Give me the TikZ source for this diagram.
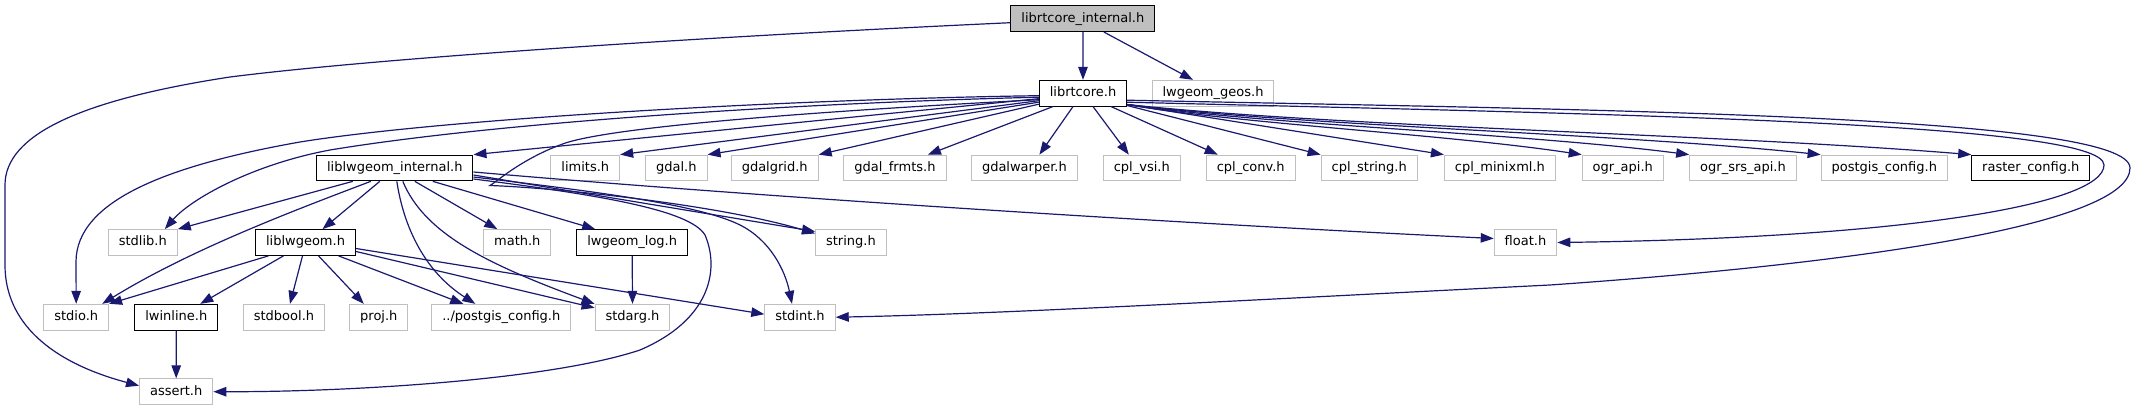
\documentclass[tikz,border=0pt]{standalone}
\usepackage{fontspec}
\setmainfont{DejaVu Sans}
\usetikzlibrary{arrows.meta}
\definecolor{edgeblue}{HTML}{191970}
\definecolor{grey75}{HTML}{BFBFBF}
\begin{document}
\begin{tikzpicture}[x=1pt,y=-1pt,
  hdr/.style={draw=grey75,fill=white,line width=1pt,inner xsep=10.5pt,inner ysep=0pt,
    minimum height=25.7pt,text height=9.6pt,text depth=2.6pt,font=\fontsize{13}{15}\selectfont},
  dochdr/.style={hdr,draw=black},
  roothdr/.style={hdr,draw=black,fill=grey75},
  inc/.style={draw=edgeblue,line width=1.2pt,-{Triangle[length=13pt,width=9.5pt]}}]
\useasboundingbox (0,0) rectangle (2137,411);

\node[roothdr] (lrci) at (1082.9,18.7) {librtcore\_internal.h};

\node[dochdr] (lrc) at (1083,93.2) {librtcore.h};
\node[hdr] (lwgeos) at (1213,93.2) {lwgeom\_geos.h};

\node[dochdr] (lwint) at (394.8,168) {liblwgeom\_internal.h};
\node[hdr] (limits) at (585.3,168) {limits.h};
\node[hdr] (gdal) at (676.3,168) {gdal.h};
\node[hdr] (gdalgrid) at (774.7,168) {gdalgrid.h};
\node[hdr] (gdalfrmts) at (894.9,168) {gdal\_frmts.h};
\node[hdr] (gdalwarper) at (1024.4,168) {gdalwarper.h};
\node[hdr] (cplvsi) at (1141.8,168) {cpl\_vsi.h};
\node[hdr] (cplconv) at (1250.7,168) {cpl\_conv.h};
\node[hdr] (cplstring) at (1369.2,168) {cpl\_string.h};
\node[hdr] (cplminixml) at (1499.9,168) {cpl\_minixml.h};
\node[hdr] (ograpi) at (1622.8,168) {ogr\_api.h};
\node[hdr] (ogrsrs) at (1743,168) {ogr\_srs\_api.h};
\node[hdr] (pgconf) at (1884.3,168) {postgis\_config.h};
\node[dochdr] (rconf) at (2030.8,168) {raster\_config.h};

\node[hdr] (stdlib) at (142.8,242.5) {stdlib.h};
\node[dochdr] (lwgeom) at (305.5,242.5) {liblwgeom.h};
\node[hdr] (math) at (517.3,242.5) {math.h};
\node[dochdr] (lwlog) at (632.2,242.5) {lwgeom\_log.h};
\node[hdr] (string) at (850.9,242.5) {string.h};
\node[hdr] (float) at (1525.5,242.5) {float.h};

\node[hdr] (stdio) at (76.2,317.2) {stdio.h};
\node[dochdr] (lwinline) at (176.3,317.2) {lwinline.h};
\node[hdr] (stdbool) at (284,317.2) {stdbool.h};
\node[hdr] (proj) at (378.8,317.2) {proj.h};
\node[hdr] (dpgconf) at (501.3,317.2) {../postgis\_config.h};
\node[hdr] (stdarg) at (632.5,317.2) {stdarg.h};
\node[hdr] (stdint) at (800,317.2) {stdint.h};

\node[hdr] (assert) at (176.2,391.7) {assert.h};

\draw[inc] (lrci.south) -- (lrc.north);
\draw[inc] ([xshift=21pt]lrci.south) -- ([xshift=-20pt]lwgeos.north);
\draw[inc] ([yshift=-4pt]lrci.west) .. controls (700,37) and (380,58) .. (230,77)
  .. controls (80,100) and (5,135) .. (5,185) -- (5,265)
  .. controls (5,322) and (50,362) .. ([yshift=6pt]assert.west);

\draw[inc] ([yshift=-2.5pt]lrc.west) .. controls (800,99) and (450,118) .. (300,142)
  .. controls (170,165) and (76,200) .. (76,262) -- (stdio.north);
\draw[inc] ([yshift=-4pt]lrc.west) .. controls (800,103) and (500,122) .. (330,150)
  .. controls (250,165) and (190,200) .. ([xshift=22pt]stdlib.north);
\draw[inc] ([yshift=-5.5pt]lrc.west) -- (lwint.north east);
\draw[inc] ([yshift=-6.5pt]lrc.west) .. controls (800,112) and (600,128) .. (560,145)
  .. controls (520,160) and (495,183) .. (490,185.5)
  .. controls (560,188) and (720,205) .. ([yshift=9pt]string.west);
\draw[inc] ([yshift=-7.5pt]lrc.west) -- (limits.north east);
\draw[inc] ([yshift=-9pt]lrc.west) -- (gdal.north east);
\draw[inc] ([yshift=-11pt]lrc.west) -- (gdalgrid.north east);
\draw[inc] ([xshift=-30pt]lrc.south) -- ([xshift=33pt]gdalfrmts.north);
\draw[inc] ([xshift=-10pt]lrc.south) -- ([xshift=15pt]gdalwarper.north);
\draw[inc] ([xshift=10pt]lrc.south) -- ([xshift=-13pt]cplvsi.north);
\draw[inc] ([xshift=28pt]lrc.south) -- ([xshift=-33pt]cplconv.north);
\draw[inc] ([yshift=1pt]lrc.south east) -- (cplstring.north west);
\draw[inc] ([yshift=2pt]lrc.south east) -- (cplminixml.north west);
\draw[inc] ([yshift=2pt]lrc.south east) .. controls (1240,124) and (1445,134) .. (ograpi.north west);
\draw[inc] ([yshift=2pt]lrc.south east) .. controls (1267,125) and (1520,133) .. (ogrsrs.north west);
\draw[inc] ([yshift=2pt]lrc.south east) .. controls (1300,126) and (1613,133) .. (pgconf.north west);
\draw[inc] ([yshift=2pt]lrc.south east) .. controls (1338,127) and (1718,134) .. (rconf.north west);
\draw[inc] ([yshift=-9pt]lrc.east) .. controls (1600,114) and (2104,122) .. (2104,165)
  .. controls (2104,205) and (1900,238) .. (float.east);
\draw[inc] ([yshift=-7pt]lrc.east) .. controls (1600,110) and (2130,115) .. (2130,168)
  .. controls (2130,222) and (1880,262) .. (1550,285)
  .. controls (1250,300) and (1000,314) .. (stdint.east);

\draw[inc] ([xshift=-42pt]lwint.south) -- (stdlib.north east);
\draw[inc] ([xshift=-24pt]lwint.south) .. controls (290,212) and (190,250) .. ([xshift=26pt]stdio.north);
\draw[inc] ([xshift=-15pt]lwint.south) -- ([xshift=17pt]lwgeom.north);
\draw[inc] ([xshift=2pt]lwint.south) .. controls (405,235) and (430,275) .. ([xshift=-26pt]dpgconf.north);
\draw[inc] ([xshift=8pt]lwint.south) .. controls (425,235) and (490,265) .. (stdarg.north west);
\draw[inc] ([xshift=20pt]lwint.south) -- ([xshift=-20pt]math.north);
\draw[inc] ([xshift=38pt]lwint.south) -- ([xshift=-37pt]lwlog.north);
\draw[inc] ([yshift=-4pt]lwint.east) .. controls (750,196) and (1150,222) .. ([yshift=4pt]float.west);
\draw[inc] ([yshift=-7pt]lwint.east) -- ([yshift=11pt]string.west);
\draw[inc] ([yshift=-9pt]lwint.east) .. controls (600,192) and (700,205) .. (740,225)
  .. controls (770,240) and (785,270) .. ([xshift=-8pt]stdint.north);
\draw[inc] ([yshift=-11pt]lwint.east) .. controls (600,195) and (690,210) .. (705,235)
  .. controls (720,270) and (710,320) .. (640,350)
  .. controls (550,380) and (350,392) .. (assert.east);

\draw[inc] ([xshift=-37pt]lwgeom.south) -- (stdio.north east);
\draw[inc] ([xshift=-22pt]lwgeom.south) -- ([xshift=24pt]lwinline.north);
\draw[inc] ([xshift=-3pt]lwgeom.south) -- ([xshift=6pt]stdbool.north);
\draw[inc] ([xshift=13pt]lwgeom.south) -- ([xshift=-15pt]proj.north);
\draw[inc] ([xshift=33pt]lwgeom.south) -- ([xshift=-38pt]dpgconf.north);
\draw[inc] ([yshift=-9pt]lwgeom.east) -- ([yshift=-4pt]stdarg.north west);
\draw[inc] ([yshift=-6pt]lwgeom.east) -- ([yshift=3pt]stdint.west);

\draw[inc] (lwlog.south) -- (stdarg.north);
\draw[inc] (lwinline.south) -- (assert.north);
\end{tikzpicture}
\end{document}
